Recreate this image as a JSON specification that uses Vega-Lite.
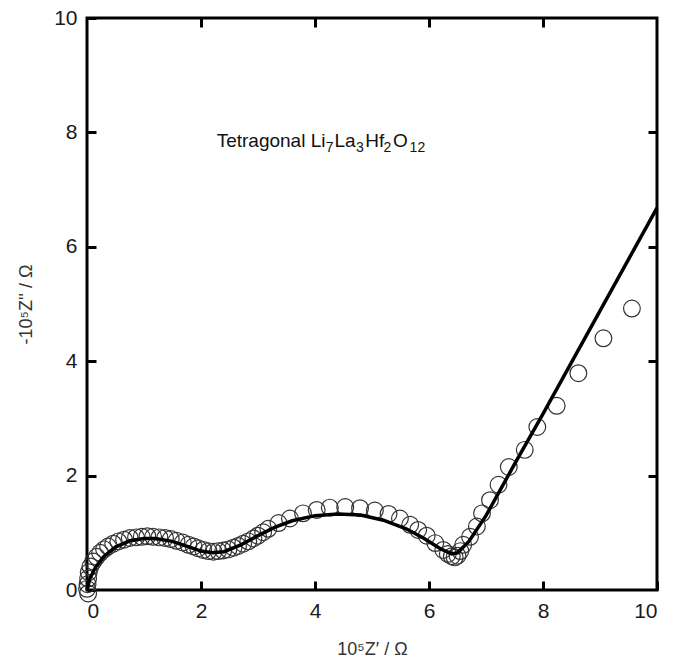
{
  "$schema": "https://vega.github.io/schema/vega-lite/v6.json",
  "autosize": "none",
  "width": 570,
  "height": 572,
  "padding": {"left": 87, "top": 18, "right": 18, "bottom": 69},
  "background": "white",
  "config": {
    "view": {"stroke": "black", "strokeWidth": 3},
    "font": "Liberation Sans",
    "axis": {"grid": false, "domain": false, "tickColor": "black", "tickWidth": 3, "tickSize": -9, "labelFont": "Liberation Sans", "titleFont": "Liberation Sans", "labelColor": "#1a1a1a", "titleColor": "#333", "titleFontWeight": "normal", "labelFontSize": 21, "titleFontSize": 18}
  },
  "datasets": {
    "pts": [
      {"x": 0.02, "y": -0.06}, {"x": 0.0, "y": 0.02}, {"x": 0.01, "y": 0.1}, {"x": 0.02, "y": 0.2},
      {"x": 0.03, "y": 0.31}, {"x": 0.06, "y": 0.41}, {"x": 0.11, "y": 0.5}, {"x": 0.17, "y": 0.58},
      {"x": 0.23, "y": 0.65}, {"x": 0.3, "y": 0.71}, {"x": 0.37, "y": 0.76}, {"x": 0.46, "y": 0.81},
      {"x": 0.55, "y": 0.85}, {"x": 0.65, "y": 0.88}, {"x": 0.75, "y": 0.91}, {"x": 0.86, "y": 0.92},
      {"x": 0.96, "y": 0.93}, {"x": 1.06, "y": 0.94}, {"x": 1.16, "y": 0.93}, {"x": 1.27, "y": 0.92},
      {"x": 1.37, "y": 0.91}, {"x": 1.47, "y": 0.89}, {"x": 1.57, "y": 0.86}, {"x": 1.68, "y": 0.83},
      {"x": 1.78, "y": 0.79}, {"x": 1.87, "y": 0.76}, {"x": 1.95, "y": 0.73}, {"x": 2.04, "y": 0.7},
      {"x": 2.13, "y": 0.68}, {"x": 2.22, "y": 0.67}, {"x": 2.3, "y": 0.68}, {"x": 2.39, "y": 0.69},
      {"x": 2.48, "y": 0.71}, {"x": 2.57, "y": 0.74}, {"x": 2.65, "y": 0.77}, {"x": 2.74, "y": 0.81},
      {"x": 2.83, "y": 0.85}, {"x": 2.92, "y": 0.9}, {"x": 3.0, "y": 0.95}, {"x": 3.09, "y": 1.01},
      {"x": 3.18, "y": 1.07}, {"x": 3.36, "y": 1.17}, {"x": 3.56, "y": 1.25}, {"x": 3.79, "y": 1.34},
      {"x": 4.03, "y": 1.4}, {"x": 4.26, "y": 1.44}, {"x": 4.53, "y": 1.45}, {"x": 4.79, "y": 1.43},
      {"x": 5.05, "y": 1.39}, {"x": 5.29, "y": 1.33}, {"x": 5.49, "y": 1.25}, {"x": 5.67, "y": 1.14},
      {"x": 5.81, "y": 1.05}, {"x": 5.96, "y": 0.95}, {"x": 6.11, "y": 0.82}, {"x": 6.25, "y": 0.7},
      {"x": 6.33, "y": 0.63}, {"x": 6.4, "y": 0.59}, {"x": 6.45, "y": 0.57}, {"x": 6.5, "y": 0.6},
      {"x": 6.55, "y": 0.68}, {"x": 6.6, "y": 0.79}, {"x": 6.72, "y": 0.93}, {"x": 6.84, "y": 1.11},
      {"x": 6.93, "y": 1.34}, {"x": 7.07, "y": 1.57}, {"x": 7.22, "y": 1.84}, {"x": 7.4, "y": 2.15},
      {"x": 7.68, "y": 2.45}, {"x": 7.9, "y": 2.85}, {"x": 8.24, "y": 3.22}, {"x": 8.62, "y": 3.79},
      {"x": 9.06, "y": 4.4}, {"x": 9.56, "y": 4.92}
    ],
    "fit": [
      {"x": 0.0, "y": 0.0}, {"x": 0.05, "y": 0.2}, {"x": 0.15, "y": 0.4}, {"x": 0.3, "y": 0.59},
      {"x": 0.5, "y": 0.75}, {"x": 0.75, "y": 0.86}, {"x": 1.0, "y": 0.9}, {"x": 1.2, "y": 0.9},
      {"x": 1.5, "y": 0.85}, {"x": 1.8, "y": 0.75}, {"x": 2.0, "y": 0.68}, {"x": 2.2, "y": 0.65},
      {"x": 2.4, "y": 0.67}, {"x": 2.7, "y": 0.79}, {"x": 3.0, "y": 0.95}, {"x": 3.3, "y": 1.1},
      {"x": 3.6, "y": 1.21}, {"x": 4.0, "y": 1.3}, {"x": 4.4, "y": 1.33}, {"x": 4.8, "y": 1.31},
      {"x": 5.2, "y": 1.22}, {"x": 5.6, "y": 1.07}, {"x": 5.9, "y": 0.91}, {"x": 6.2, "y": 0.72},
      {"x": 6.4, "y": 0.63}, {"x": 6.5, "y": 0.65}, {"x": 6.7, "y": 0.85}, {"x": 7.0, "y": 1.3},
      {"x": 7.5, "y": 2.2}, {"x": 8.0, "y": 3.08}, {"x": 9.0, "y": 4.88}, {"x": 10.0, "y": 6.68}
    ],
    "labelMain": [
      {"x": 2.275, "y": 7.745, "t": "Tetragonal Li"},
      {"x": 4.34, "y": 7.745, "t": "La"},
      {"x": 4.88, "y": 7.745, "t": "Hf"},
      {"x": 5.37, "y": 7.745, "t": "O"}
    ],
    "labelSub": [
      {"x": 4.19, "y": 7.66, "t": "7"},
      {"x": 4.72, "y": 7.66, "t": "3"},
      {"x": 5.2, "y": 7.66, "t": "2"},
      {"x": 5.66, "y": 7.66, "t": "12"}
    ]
  },
  "resolve": {"axis": {"x": "independent", "y": "independent"}},
  "layer": [
    {
      "data": {"name": "pts"},
      "mark": {"type": "point", "shape": "circle", "filled": false, "stroke": "#333", "strokeWidth": 1.2, "size": 280, "opacity": 1},
      "encoding": {
        "x": {"field": "x", "type": "quantitative", "scale": {"domain": [0, 10], "nice": false, "zero": false},
              "axis": {"orient": "bottom", "values": [0, 2, 4, 6, 8, 10], "title": "10⁵Z′ / Ω", "labelPadding": 19, "titlePadding": 19}},
        "y": {"field": "y", "type": "quantitative", "scale": {"domain": [0, 10], "nice": false, "zero": false},
              "axis": {"orient": "left", "values": [0, 2, 4, 6, 8, 10], "title": "-10⁵Z'' / Ω", "labelPadding": 19, "titlePadding": 18}}
      }
    },
    {
      "data": {"name": "fit"},
      "mark": {"type": "line", "color": "black", "strokeWidth": 3.5},
      "encoding": {
        "x": {"field": "x", "type": "quantitative", "axis": {"orient": "top", "values": [2, 4, 6, 8], "labels": false, "title": null}},
        "y": {"field": "y", "type": "quantitative", "axis": {"orient": "right", "values": [2, 4, 6, 8], "labels": false, "title": null}}
      }
    },
    {
      "data": {"name": "labelMain"},
      "mark": {"type": "text", "align": "left", "baseline": "alphabetic", "fontSize": 19, "font": "Liberation Sans", "color": "#111"},
      "encoding": {
        "x": {"field": "x", "type": "quantitative", "axis": null},
        "y": {"field": "y", "type": "quantitative", "axis": null},
        "text": {"field": "t"}
      }
    },
    {
      "data": {"name": "labelSub"},
      "mark": {"type": "text", "align": "left", "baseline": "alphabetic", "fontSize": 14, "font": "Liberation Sans", "color": "#111"},
      "encoding": {
        "x": {"field": "x", "type": "quantitative", "axis": null},
        "y": {"field": "y", "type": "quantitative", "axis": null},
        "text": {"field": "t"}
      }
    }
  ]
}
